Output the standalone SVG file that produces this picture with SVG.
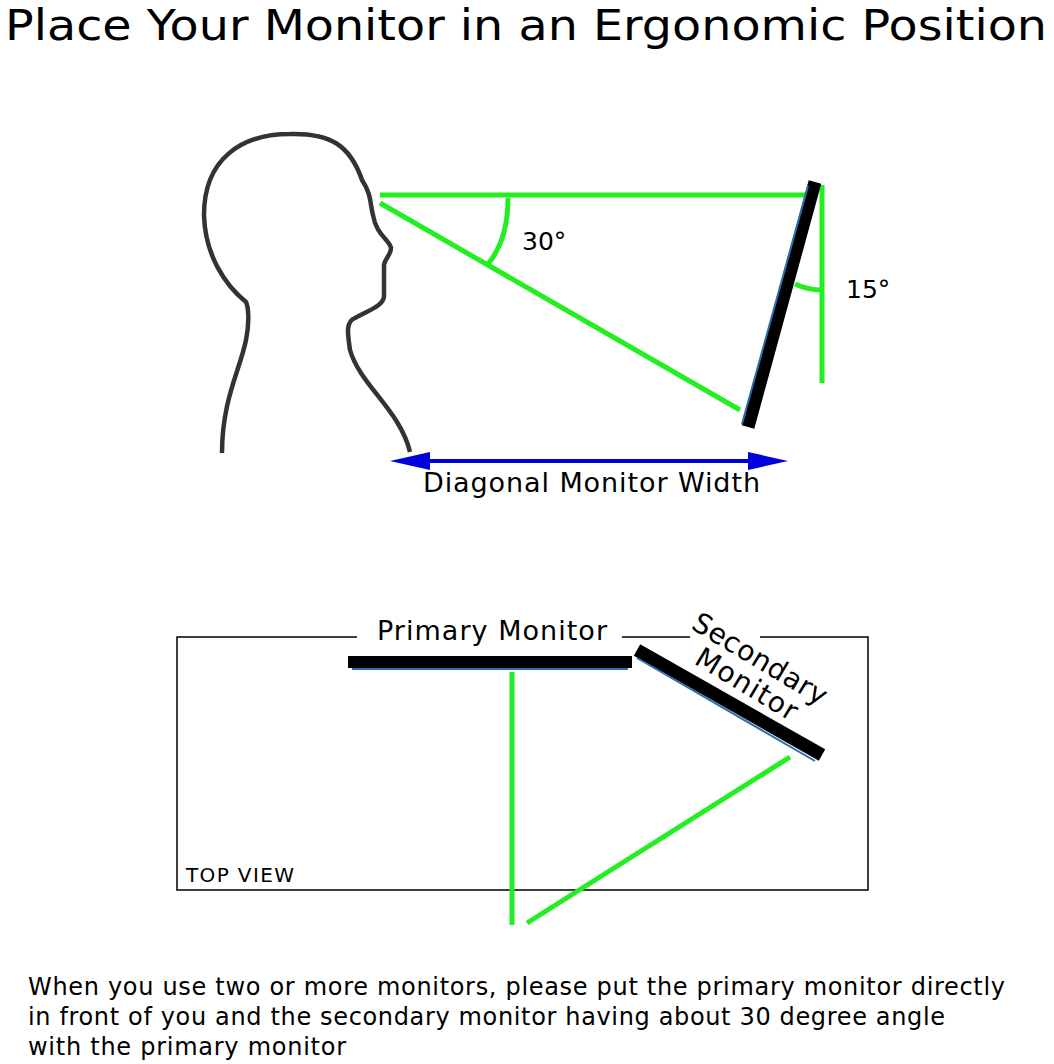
<svg xmlns="http://www.w3.org/2000/svg" width="1054" height="1064" viewBox="0 0 1054 1064">
<style>
text{font-family:"DejaVu Sans","Liberation Sans",sans-serif;fill:#000}
.g{stroke:#22ee22;stroke-width:5;fill:none}
.m{stroke:#000;stroke-width:13;fill:none}
.e{stroke:#2a6fb0;stroke-width:2;fill:none}
</style>
<rect width="1054" height="1064" fill="#fff"/>
<text x="5" y="40" font-size="43" textLength="1042" lengthAdjust="spacingAndGlyphs">Place Your Monitor in an Ergonomic Position</text>
<g id="head"><path d="M222,453 C222,400 240,370 246,340 C250,320 248,306 246,302 C225,285 205,255 204,215 C204,160 240,134 290,134 C330,133 350,145 362,180 C372,195 370,205 373,215 C376,235 390,240 391,248 C391,255 385,258 384,265 L384,296 C384,305 370,310 355,318 C345,322 348,335 350,350 C360,385 400,410 410,452" fill="none" stroke="#333" stroke-width="4.5"/></g>
<g id="side">
<line class="g" x1="380" y1="195" x2="812" y2="195"/>
<line class="g" x1="380" y1="203" x2="740" y2="410"/>
<line class="g" x1="822" y1="185" x2="822" y2="383"/>
<path class="g" d="M508,198 Q508,240 488,264"/>
<path class="g" d="M795,284 Q808,290 822,290"/>
<line class="m" x1="815" y1="182" x2="748" y2="427"/>
<line class="e" x1="808" y1="186" x2="742" y2="424"/>
<text x="522" y="250" font-size="25">30°</text>
<text x="846" y="298" font-size="25">15°</text>
<line x1="405" y1="461" x2="775" y2="461" stroke="#0000dd" stroke-width="4"/>
<polygon points="390,461 430,452 430,470" fill="#0000dd"/>
<polygon points="788,461 748,452 748,470" fill="#0000dd"/>
<text x="423" y="492" font-size="27" textLength="337">Diagonal Monitor Width</text>
</g>
<g id="top">
<path d="M357,637 H177 V890 H868 V637 H760 M690,637 H622" fill="none" stroke="#000" stroke-width="1.5"/>
<text x="377" y="640" font-size="27" textLength="230">Primary Monitor</text>
<text transform="translate(690,628) rotate(31)" font-size="28" textLength="152">Secondary</text>
<text transform="translate(693,663) rotate(31)" font-size="28" textLength="114">Monitor</text>
<line class="g" x1="512" y1="672" x2="512" y2="925"/>
<line class="g" x1="527" y1="923" x2="790" y2="757"/>
<rect x="348" y="656" width="284" height="12" fill="#000"/>
<line class="e" x1="352" y1="669" x2="628" y2="669"/>
<line class="m" x1="637" y1="650" x2="822" y2="755"/>
<line class="e" x1="637" y1="658" x2="815" y2="761"/>
<text x="186" y="882" font-size="20" textLength="108">TOP VIEW</text>
</g>
<text font-size="24"><tspan x="28" y="995" textLength="977">When you use two or more monitors, please put the primary monitor directly</tspan><tspan x="28" y="1025" textLength="917">in front of you and the secondary monitor having about 30 degree angle</tspan><tspan x="28" y="1055" textLength="318">with the primary monitor</tspan></text>
</svg>
